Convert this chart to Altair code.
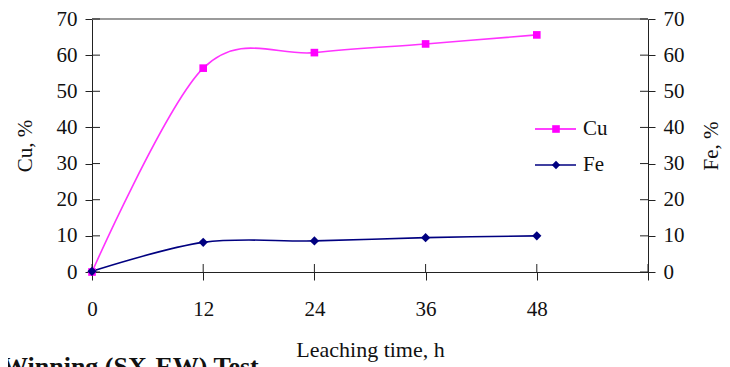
import altair as alt
import pandas as pd

time_h = [0, 12, 24, 36, 48]
cu_pct = [0.0, 56.4, 60.7, 63.1, 65.6]
fe_pct = [0.2, 8.2, 8.6, 9.5, 10.0]
x_ticks = [0, 12, 24, 36, 48, 60]
y_ticks = [0, 10, 20, 30, 40, 50, 60, 70]
series = ["Cu", "Fe"]
colors = ["#FF00FF", "#000080"]
caption = "Winning (SX-EW) Test"

W, H = 556, 253
FONT = "Liberation Serif"

df = pd.DataFrame({"t": time_h, "cu": cu_pct, "fe": fe_pct})
xt = pd.DataFrame({"v": x_ticks})
yt = pd.DataFrame({"v": y_ticks})
leg = pd.DataFrame({"s": series, "c": colors})

xscale = alt.Scale(domain=[0, 60], nice=False)
yscale = alt.Scale(domain=[0, 70], nice=False)

xaxis = alt.Axis(values=x_ticks, labelExpr="datum.value == 60 ? '' : datum.label",
                 title="Leaching time, h", grid=False, tickSize=8, labelPadding=18,
                 labelFlush=False, titlePadding=20, domainColor="#222", tickColor="#222",
                 labelColor="#111", titleColor="#111", labelFont=FONT, titleFont=FONT,
                 labelFontSize=21, titleFontSize=22, titleFontWeight="normal")

def yaxis(title, orient, tx):
    return alt.Axis(values=y_ticks, title=title, orient=orient, grid=False, tickSize=7,
                    labelPadding=8, domainColor="#222", tickColor="#222",
                    labelColor="#111", titleColor="#111", labelFont=FONT, titleFont=FONT,
                    labelFontSize=21, titleFontSize=21, titleFontWeight="normal",
                    titleAngle=270, titleX=tx, titleY=H / 2, titleAlign="center",
                    titleBaseline="middle")

X = alt.X("t:Q", scale=xscale, axis=xaxis)

base = alt.Chart(df)

cu_line = base.mark_line(interpolate="cardinal", color="#FF33FF", strokeWidth=1.6).encode(
    x=X, y=alt.Y("cu:Q", scale=yscale, axis=yaxis("Cu, %", "left", -67)))
cu_pts = base.mark_point(shape="square", filled=True, size=58, color="#FF00FF", opacity=1).encode(
    x=X, y=alt.Y("cu:Q", scale=yscale, axis=None))
fe_line = base.mark_line(interpolate="cardinal", color="#000080", strokeWidth=1.6).encode(
    x=X, y=alt.Y("fe:Q", scale=yscale, axis=yaxis("Fe, %", "right", 63)))
fe_pts = base.mark_point(shape="diamond", filled=True, size=85, color="#000080", opacity=1).encode(
    x=X, y=alt.Y("fe:Q", scale=yscale, axis=None))

# inward halves of crossing tick marks
xin = alt.Chart(xt).mark_rule(color="#222", strokeWidth=1).encode(
    x=alt.X("v:Q", scale=xscale, axis=xaxis), y=alt.value(H - 8), y2=alt.value(H))
yin_l = alt.Chart(yt).mark_rule(color="#222", strokeWidth=1).encode(
    y=alt.Y("v:Q", scale=yscale, axis=None), x=alt.value(0), x2=alt.value(8))
yin_r = alt.Chart(yt).mark_rule(color="#222", strokeWidth=1).encode(
    y=alt.Y("v:Q", scale=yscale, axis=None), x=alt.value(W - 8), x2=alt.value(W))
top = alt.Chart(xt).mark_rule(color="#999", strokeWidth=1).encode(
    x=alt.value(0), x2=alt.value(W), y=alt.value(0))

# legend
cmap = alt.Scale(domain=series, range=colors)
C = alt.Color("s:N", scale=cmap, legend=None)
leg_cu = leg[leg.s == "Cu"]
leg_fe = leg[leg.s == "Fe"]
legend_layers = []
for d, yy, shp, sz in [(leg_cu, 110, "square", 58), (leg_fe, 146, "diamond", 70)]:
    legend_layers.append(alt.Chart(d).mark_rule(strokeWidth=1.6).encode(
        x=alt.value(443), x2=alt.value(484), y=alt.value(yy), color=C))
    legend_layers.append(alt.Chart(d).mark_point(shape=shp, filled=True, size=sz, opacity=1).encode(
        x=alt.value(464), y=alt.value(yy), color=C))
    legend_layers.append(alt.Chart(d).mark_text(align="left", baseline="middle", font=FONT,
                                                fontSize=21, color="#111").encode(
        x=alt.value(491), y=alt.value(yy), text="s:N"))

cap = alt.Chart(leg_cu).mark_text(align="left", baseline="alphabetic", font=FONT,
                                  fontSize=26, fontWeight="bold", color="#111").encode(
    x=alt.value(-90), y=alt.value(356), text=alt.value(caption))

chart = alt.layer(
    top, cu_line, fe_line, xin, yin_l, yin_r, cu_pts, fe_pts,
    *legend_layers, cap
).resolve_scale(y="independent", color="shared").properties(
    width=W, height=H,
    autosize=alt.AutoSizeParams(type="none"),
    padding={"left": 84, "top": 11, "right": 74, "bottom": 95},
    background="white",
).configure_view(stroke=None)

chart.save("out.html", embed_options={"renderer": "svg", "actions": False})
